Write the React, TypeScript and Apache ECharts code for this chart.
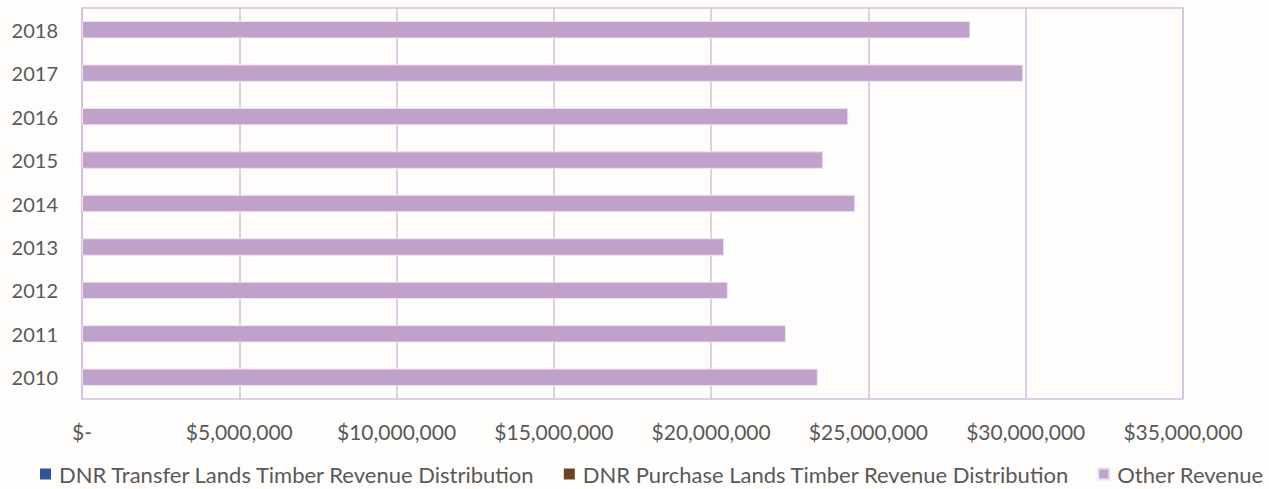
import React, { useEffect, useRef } from "react";
import * as echarts from "echarts";

const years = ["2010", "2011", "2012", "2013", "2014", "2015", "2016", "2017", "2018"];
const transferLands = [0, 0, 0, 0, 0, 0, 0, 0, 0];
const purchaseLands = [0, 0, 0, 0, 0, 0, 0, 0, 0];
const otherRevenue = [23390000, 22380000, 20530000, 20410000, 24580000, 23560000, 24360000, 29920000, 28240000];
const seriesNames = [
  "DNR Transfer Lands Timber Revenue Distribution",
  "DNR Purchase Lands Timber Revenue Distribution",
  "Other Revenue",
];
const xMax = 35000000;
const xStep = 5000000;

const FONT = "Lato, 'Noto Sans', sans-serif";
const TEXT = "#595959";
const GRID = "#D6BFDD";

function fmt(v: number): string {
  if (v === 0) return "$-";
  return "$" + v.toLocaleString("en-US");
}

export default function App() {
  const ref = useRef<HTMLDivElement>(null);
  useEffect(() => {
    if (!ref.current) return;
    const chart = echarts.init(ref.current, undefined, { renderer: "svg" });
    chart.setOption({
      animation: false,
      backgroundColor: "#FEFDFB",
      grid: {
        left: 82,
        right: 86,
        top: 8,
        bottom: 90,
        show: true,
        borderColor: GRID,
        borderWidth: 1.5,
        containLabel: false,
      },
      legend: {
        bottom: 4,
        left: 40,
        width: 1229,
        padding: 0,
        itemWidth: 11,
        itemHeight: 11,
        itemGap: 28,
        icon: "rect",
        textStyle: { color: TEXT, fontSize: 22, fontFamily: FONT, padding: [0, 0, 0, 3] },
        data: seriesNames,
      },
      xAxis: {
        type: "value",
        min: 0,
        max: xMax,
        interval: xStep,
        axisLine: { show: false },
        axisTick: { show: false },
        splitLine: { show: true, lineStyle: { color: GRID, width: 1.5 } },
        axisLabel: {
          color: TEXT,
          fontSize: 21,
          fontFamily: FONT,
          margin: 22,
          formatter: (v: number) => fmt(v),
        },
      },
      yAxis: {
        type: "category",
        data: years,
        axisLine: { show: true, lineStyle: { color: GRID, width: 1.5 } },
        axisTick: { show: false },
        axisLabel: { color: TEXT, fontSize: 20, fontFamily: FONT, margin: 24 },
      },
      series: [
        {
          name: seriesNames[0],
          type: "bar",
          stack: "total",
          data: transferLands,
          itemStyle: { color: "#2F5597" },
          barCategoryGap: "60%",
        },
        {
          name: seriesNames[1],
          type: "bar",
          stack: "total",
          data: purchaseLands,
          itemStyle: { color: "#6A4423" },
          barCategoryGap: "60%",
        },
        {
          name: seriesNames[2],
          type: "bar",
          stack: "total",
          data: otherRevenue,
          itemStyle: { color: "#C0A1C9", borderColor: "#EDE3EF", borderWidth: 1 },
          barCategoryGap: "60%",
        },
      ],
    });
    return () => chart.dispose();
  }, []);
  return (
    <div
      ref={ref}
      style={{ position: "fixed", left: 0, top: 0, width: 1269, height: 489 }}
    />
  );
}
